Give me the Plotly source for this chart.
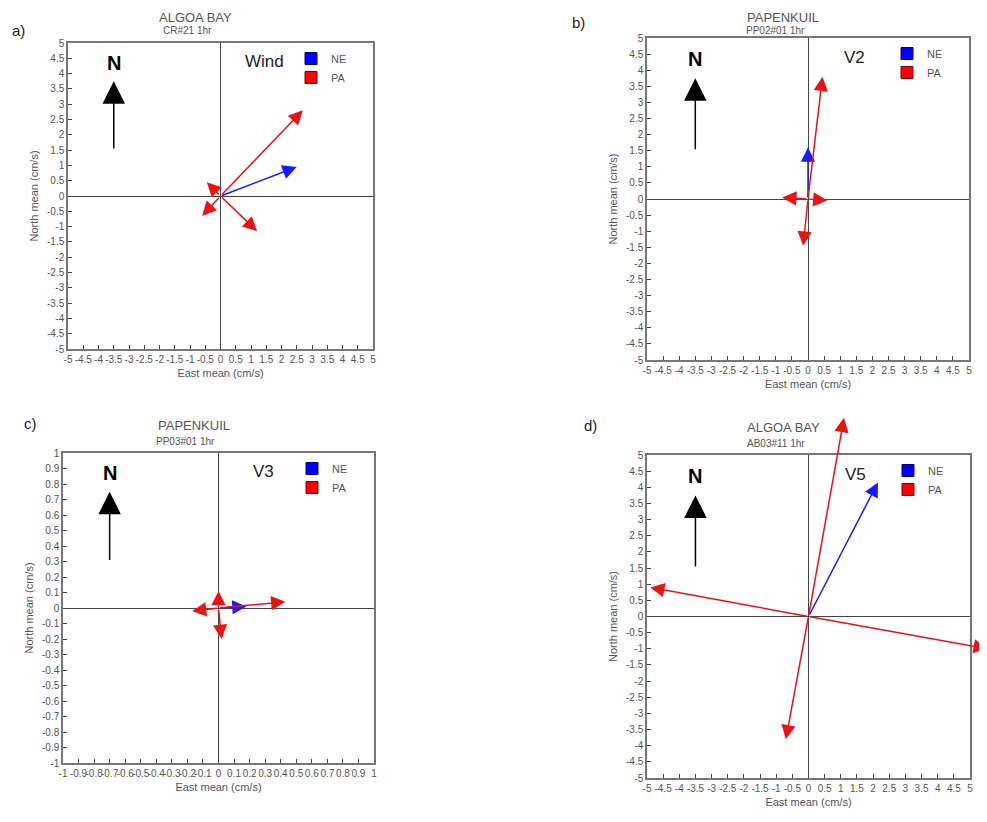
import plotly.graph_objects as go

# ---------------- data (cm/s) ----------------
panel_letters = ["a)", "b)", "c)", "d)"]
panel_titles = ["ALGOA BAY", "PAPENKUIL", "PAPENKUIL", "ALGOA BAY"]
panel_subtitles = ["CR#21 1hr", "PP02#01 1hr", "PP03#01 1hr", "AB03#11 1hr"]
panel_tags = ["Wind", "V2", "V3", "V5"]
axis_limits = [5, 5, 1, 5]
tick_steps = [0.5, 0.5, 0.1, 0.5]

# NE component vectors (east, north)
ne_east = [[2.5], [0.0], [0.18], [2.15]]
ne_north = [[0.95], [1.6], [0.01], [4.15]]
# PA component vectors (east, north)
pa_east = [[2.7, -0.45, -0.6, 1.2],
           [0.45, -0.8, 0.6, -0.15],
           [0.43, 0.0, -0.17, 0.02],
           [1.1, -4.9, 5.55, -0.7]]
pa_north = [[2.8, 0.45, -0.65, -1.15],
            [3.8, 0.05, -0.05, -1.45],
            [0.04, 0.11, -0.02, -0.2],
            [6.15, 0.9, -1.0, -3.8]]

# ---------------- layout geometry ----------------
# pixel positions measured on the 987x822 page; the html body adds an 8px margin
PAGE_W, PAGE_H, BODY = 987, 822, 8
W, H = PAGE_W - 2 * BODY, PAGE_H - 2 * BODY
plot_px = [(68, 373, 43, 349), (647, 969, 38, 360), (63, 374, 453, 763), (647, 970, 455, 778)]

BLUE = "#1a1aff"
RED = "#ee1111"
GRAY = "#555555"
FONT = "Liberation Sans, Arial, sans-serif"

def px2x(p):
    return (p - BODY) / W

def px2y(p):
    return 1 - (p - BODY) / H

def fmt(v):
    s = f"{v:.1f}".rstrip("0").rstrip(".")
    return "0" if s in ("-0", "0") else s

fig = go.Figure()
annotations = []
layout_axes = {}

for i in range(4):
    k = "" if i == 0 else str(i + 1)
    xa, ya = "x" + k, "y" + k
    x0, x1, y0, y1 = plot_px[i]
    lim = axis_limits[i]
    step = tick_steps[i]
    n = int(round(2 * lim / step))
    vals = [round(-lim + j * step, 4) for j in range(n + 1)]
    texts = [fmt(v) for v in vals]
    common = dict(range=[-lim, lim], tickvals=vals, ticktext=texts, ticks="inside",
                  ticklen=4, tickcolor="#444", showline=True, linecolor="#777",
                  linewidth=1.5, mirror=True, showgrid=False, zeroline=True,
                  zerolinecolor="#444", zerolinewidth=1, automargin=False,
                  tickfont=dict(size=10, color=GRAY, family=FONT))
    layout_axes["xaxis" + k] = dict(common, domain=[px2x(x0), px2x(x1)], anchor=ya,
                                    tickangle=0,
                                    title=dict(text="East mean (cm/s)", standoff=6,
                                               font=dict(size=11, color=GRAY, family=FONT)))
    layout_axes["yaxis" + k] = dict(common, domain=[px2y(y1), px2y(y0)], anchor=xa,
                                    title=dict(text="North mean (cm/s)", standoff=6,
                                               font=dict(size=11, color=GRAY, family=FONT)))

    # legend per panel
    leg = "legend" if i == 0 else "legend" + str(i + 1)
    fig.add_trace(go.Bar(x=[None], y=[None], name="NE", xaxis=xa, yaxis=ya,
                         marker=dict(color="#0000ff", line=dict(color="#000080", width=1)),
                         legend=leg, showlegend=True))
    fig.add_trace(go.Bar(x=[None], y=[None], name="PA", xaxis=xa, yaxis=ya,
                         marker=dict(color="#ff0000", line=dict(color="#800000", width=1)),
                         legend=leg, showlegend=True))
    layout_axes[leg] = dict(x=px2x(x1 - 82), y=px2y(y0 + 1), xanchor="left", yanchor="top",
                            bgcolor="rgba(0,0,0,0)", font=dict(size=11, color=GRAY, family=FONT),
                            tracegroupgap=0, itemwidth=30, traceorder="normal")

    # vectors
    for e, nv in zip(ne_east[i], ne_north[i]):
        annotations.append(dict(x=e, y=nv, ax=0, ay=0, xref=xa, yref=ya, axref=xa, ayref=ya,
                                text="", showarrow=True, arrowhead=2, arrowsize=1.9,
                                arrowwidth=1.5, arrowcolor=BLUE, standoff=0))
    for e, nv in zip(pa_east[i], pa_north[i]):
        annotations.append(dict(x=e, y=nv, ax=0, ay=0, xref=xa, yref=ya, axref=xa, ayref=ya,
                                text="", showarrow=True, arrowhead=2, arrowsize=1.9,
                                arrowwidth=1.5, arrowcolor=RED, standoff=0))

    # north arrow
    annotations.append(dict(x=0.15, y=0.875, ax=0.15, ay=0.65, xref=xa + " domain",
                            yref=ya + " domain", axref=xa + " domain", ayref=ya + " domain",
                            text="", showarrow=True, arrowhead=2, arrowsize=3,
                            arrowwidth=1.5, arrowcolor="black", standoff=0))
    annotations.append(dict(x=0.15, y=0.935, xref=xa + " domain", yref=ya + " domain",
                            text="<b>N</b>", showarrow=False, xanchor="center", yanchor="middle",
                            font=dict(size=20, color="black", family=FONT)))
    # panel tag
    annotations.append(dict(x=0.645, y=0.94, xref=xa + " domain", yref=ya + " domain",
                            text=panel_tags[i], showarrow=False, xanchor="center",
                            yanchor="middle", font=dict(size=17, color="#222", family=FONT)))
    # titles
    cx = (x0 + x1) / 2
    ty = max(y0 - 28, 17)
    sy = max(y0 - 12, 30)
    annotations.append(dict(x=px2x(cx - 25), y=px2y(ty), xref="paper", yref="paper",
                            text=panel_titles[i], showarrow=False, xanchor="center",
                            yanchor="middle", font=dict(size=13, color=GRAY, family=FONT)))
    annotations.append(dict(x=px2x(cx - 33), y=px2y(sy), xref="paper", yref="paper",
                            text=panel_subtitles[i], showarrow=False, xanchor="center",
                            yanchor="middle", font=dict(size=10, color=GRAY, family=FONT)))
    # panel letter
    lx = [18, 578, 30, 590][i]
    ly = [30, 22, 423, 425][i]
    annotations.append(dict(x=px2x(lx), y=px2y(ly), xref="paper", yref="paper",
                            text=panel_letters[i], showarrow=False, xanchor="center",
                            yanchor="middle", font=dict(size=15, color="#222", family=FONT)))

fig.update_layout(width=W, height=H, margin=dict(l=0, r=0, t=0, b=0),
                  paper_bgcolor="white", plot_bgcolor="white",
                  annotations=annotations, **layout_axes)

fig.write_html("out.html")
